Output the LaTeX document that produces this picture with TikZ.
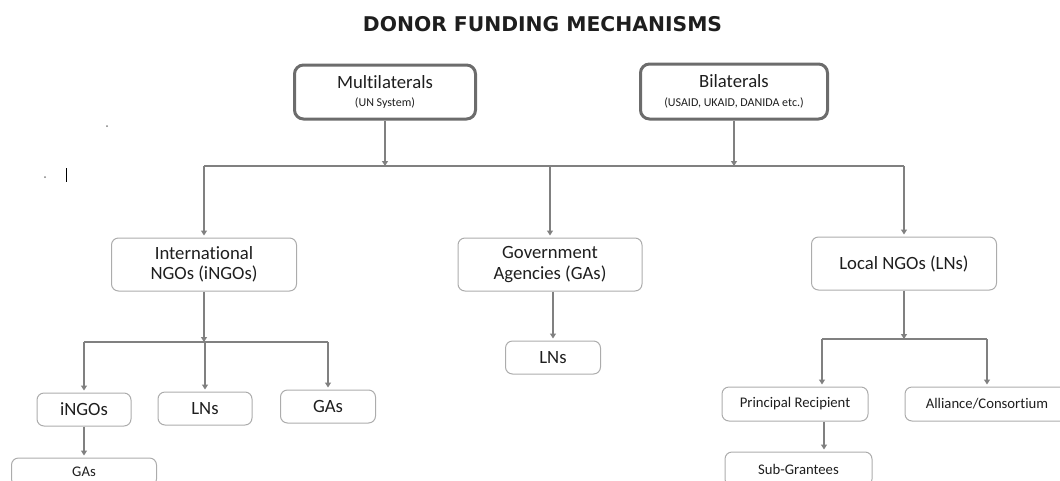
\documentclass[tikz,border=0pt]{standalone}
\usepackage{fontspec}
\setmainfont{Carlito}[Ligatures=NoCommon]
\newfontfamily\titlefont{DejaVu Sans}
\usepackage{tikz}
\usetikzlibrary{arrows.meta}
\usepackage{xcolor}
\definecolor{linkgray}{RGB}{128, 128, 128}
\definecolor{boxgray}{RGB}{172, 172, 172}
\definecolor{topgray}{RGB}{108, 108, 108}
\definecolor{txt}{RGB}{30, 30, 30}

\begin{document}
\begin{tikzpicture}[x=1pt, y=-1pt, >={Triangle[width=6pt, length=5pt]},
  unit/.style={draw=boxgray, line width=1pt, rounded corners=7pt, align=center, inner sep=0pt, text=txt, font=\fontsize{18.7}{20.5}\selectfont},
  donor/.style={unit, draw=topgray, line width=3pt, rounded corners=9pt},
  small/.style={unit, font=\fontsize{14.7}{17}\selectfont},
  link/.style={draw=linkgray, line width=1.2pt},
  feed/.style={link, ->},
  drop/.style={link, ->, shorten >=2pt}]
  \useasboundingbox (0, 0) rectangle (1060, 480);
  \clip (0, 0) rectangle (1060, 480);

  \node[font=\titlefont\bfseries\fontsize{20.3}{24}\selectfont, text=txt] (title) at (542.5, 24.5) {DONOR FUNDING MECHANISMS};

  % stray marks
  \fill[gray] (107, 126) circle (1pt);
  \fill[gray] (45, 177) circle (1pt);
  \draw[black, line width=0.8pt] (66, 168) -- (66, 182);

  % donors
  \node[donor, minimum width=181pt, minimum height=54pt] (multi) at (385, 92) {Multilaterals\\[-2pt]{\fontsize{12}{14}\selectfont (UN System)}};
  \node[donor, minimum width=187pt, minimum height=55pt] (bi) at (734, 91.5) {Bilaterals\\[-2pt]{\fontsize{12}{14}\selectfont (USAID, UKAID, DANIDA etc.)}};

  % second level
  \node[unit, minimum width=185pt, minimum height=53pt] (ingo) at (204, 264.5) {International\\NGOs (iNGOs)};
  \node[unit, minimum width=184pt, minimum height=53pt] (gov) at (550, 264.5) {Government\\Agencies (GAs)};
  \node[unit, minimum width=185pt, minimum height=53pt] (local) at (904, 263.5) {Local NGOs (LNs)};

  % under iNGOs
  \node[unit, minimum width=94pt, minimum height=33pt] (ingoA) at (84, 409.5) {iNGOs};
  \node[unit, minimum width=94pt, minimum height=33pt] (ingoB) at (205, 408.5) {LNs};
  \node[unit, minimum width=95pt, minimum height=33pt] (ingoC) at (328, 406.5) {GAs};
  \node[small, minimum width=145pt, minimum height=28pt] (ingoD) at (84, 472) {GAs};

  % under GAs
  \node[unit, minimum width=95pt, minimum height=33pt] (govA) at (553, 357.5) {LNs};

  % under LNs
  \node[small, minimum width=146pt, minimum height=34pt] (prin) at (795, 404) {Principal Recipient};
  \node[small, minimum width=164pt, minimum height=34pt] (alli) at (987, 404) {Alliance/Consortium};
  \node[small, minimum width=147pt, minimum height=34pt] (sub) at (798.5, 469) {Sub-Grantees};

  % top bus
  \coordinate (busL) at (204, 166);
  \coordinate (busR) at (904, 166);
  \draw[feed] (multi.south) -- (multi.south |- busL);
  \draw[feed] (bi.south) -- (bi.south |- busL);
  \draw[link] (busL) -- (busR);
  \draw[drop] (busL) -- (ingo.north);
  \draw[drop] (gov.north |- busL) -- (gov.north);
  \draw[drop] (busR) -- (local.north);

  % iNGO bus
  \coordinate (ibusL) at (84, 342);
  \coordinate (ibusR) at (328, 342);
  \draw[feed] (ingo.south) -- (ingo.south |- ibusL);
  \draw[link] (ibusL) -- (ibusR);
  \draw[drop] (ibusL) -- (ingoA.north);
  \draw[drop] (ingoB.north |- ibusL) -- (ingoB.north);
  \draw[drop] (ibusR) -- (ingoC.north);
  \draw[drop] (ingoA.south) -- (ingoD.north);

  % GA branch
  \draw[drop] (govA.north |- gov.south) -- (govA.north);

  % LN bus
  \coordinate (lbusL) at (822, 339);
  \coordinate (lbusR) at (987, 339);
  \draw[feed] (local.south) -- (local.south |- lbusL);
  \draw[link] (lbusL) -- (lbusR);
  \draw[drop] (lbusL) -- (lbusL |- prin.north);
  \draw[drop] (lbusR) -- (alli.north);
  \draw[drop] (prin.south -| 824, 0) -- (sub.north -| 824, 0);
\end{tikzpicture}
\end{document}
